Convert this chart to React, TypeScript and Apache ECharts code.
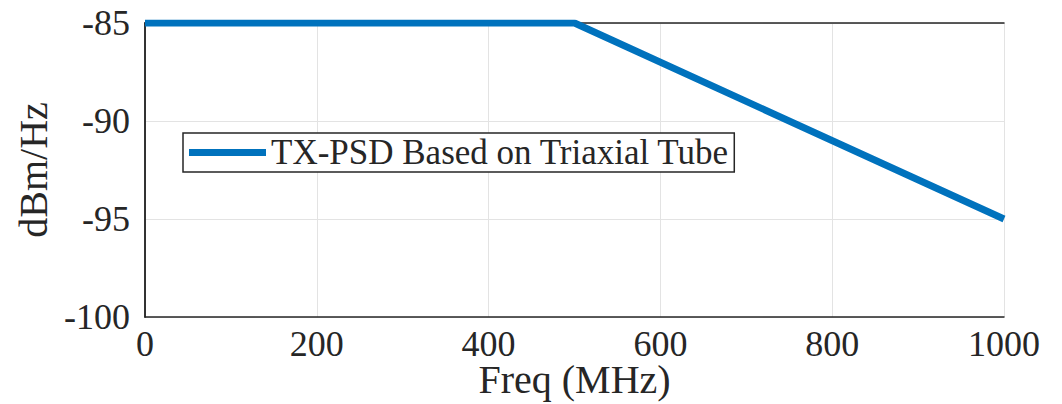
import React, { useEffect, useRef } from "react";
import * as echarts from "echarts";

// Transmit power spectral density mask
const freqMHz = [0, 500, 1000];
const psdDbmHz = [-85, -85, -95];

const xTicks = [0, 200, 400, 600, 800, 1000];
const yTicks = [-100, -95, -90, -85];

const seriesName = "TX-PSD Based on Triaxial Tube";

const FONT = "Liberation Serif";
const INK = "#262626";

export default function App() {
  const ref = useRef<HTMLDivElement>(null);

  useEffect(() => {
    if (!ref.current) return;
    const chart = echarts.init(ref.current, undefined, { renderer: "svg" });
    const axisLine = { show: true, lineStyle: { color: INK, width: 1.5 } };
    chart.setOption({
      animation: false,
      backgroundColor: "#ffffff",
      grid: {
        left: 145,
        right: 58,
        top: 23,
        bottom: 87,
        containLabel: false,
        outerBoundsMode: "none",
      },
      legend: {
        data: [{ name: seriesName, icon: "rect" }],
        left: 183,
        top: 133,
        orient: "horizontal",
        itemWidth: 77,
        itemHeight: 7,
        itemGap: 5,
        padding: [2, 5, 2, 6],
        borderColor: INK,
        borderWidth: 1.5,
        backgroundColor: "#ffffff",
        textStyle: { fontFamily: FONT, fontSize: 35, lineHeight: 35, color: INK },
      },
      xAxis: [
        {
          type: "value",
          min: xTicks[0],
          max: xTicks[xTicks.length - 1],
          interval: 200,
          name: "Freq (MHz)",
          nameLocation: "middle",
          nameGap: 46,
          nameMoveOverlap: false,
          nameTextStyle: { fontFamily: FONT, fontSize: 40, lineHeight: 32, color: INK },
          axisLine,
          axisTick: { show: false },
          axisLabel: {
            fontFamily: FONT,
            fontSize: 36,
            lineHeight: 30,
            color: INK,
            margin: 12,
            formatter: (v: number) => String(v),
          },
          splitLine: { show: true, lineStyle: { color: "#e3e3e3", width: 1 } },
        },
        {
          type: "value",
          position: "top",
          min: xTicks[0],
          max: xTicks[xTicks.length - 1],
          interval: 200,
          axisLine,
          axisTick: { show: false },
          axisLabel: { show: false },
          splitLine: { show: false },
        },
      ],
      yAxis: [
        {
          type: "value",
          min: yTicks[0],
          max: yTicks[yTicks.length - 1],
          interval: 5,
          name: "dBm/Hz",
          nameLocation: "middle",
          nameGap: 92,
          nameRotate: 90,
          nameMoveOverlap: false,
          nameTextStyle: { fontFamily: FONT, fontSize: 40, color: INK },
          axisLine,
          axisTick: { show: false },
          axisLabel: { fontFamily: FONT, fontSize: 36, color: INK, margin: 15 },
          splitLine: { show: true, lineStyle: { color: "#e3e3e3", width: 1 } },
        },
        {
          type: "value",
          position: "right",
          min: yTicks[0],
          max: yTicks[yTicks.length - 1],
          interval: 5,
          axisLine,
          axisTick: { show: false },
          axisLabel: { show: false },
          splitLine: { show: false },
        },
      ],
      series: [
        {
          name: seriesName,
          type: "line",
          data: freqMHz.map((f, i) => [f, psdDbmHz[i]]),
          showSymbol: false,
          symbol: "none",
          lineStyle: { color: "#0072BD", width: 7 },
          itemStyle: { color: "#0072BD" },
          z: 3,
        },
      ],
    });
    return () => chart.dispose();
  }, []);

  return (
    <div
      ref={ref}
      style={{ width: 1062, height: 404, position: "absolute", left: 0, top: 0 }}
    />
  );
}
